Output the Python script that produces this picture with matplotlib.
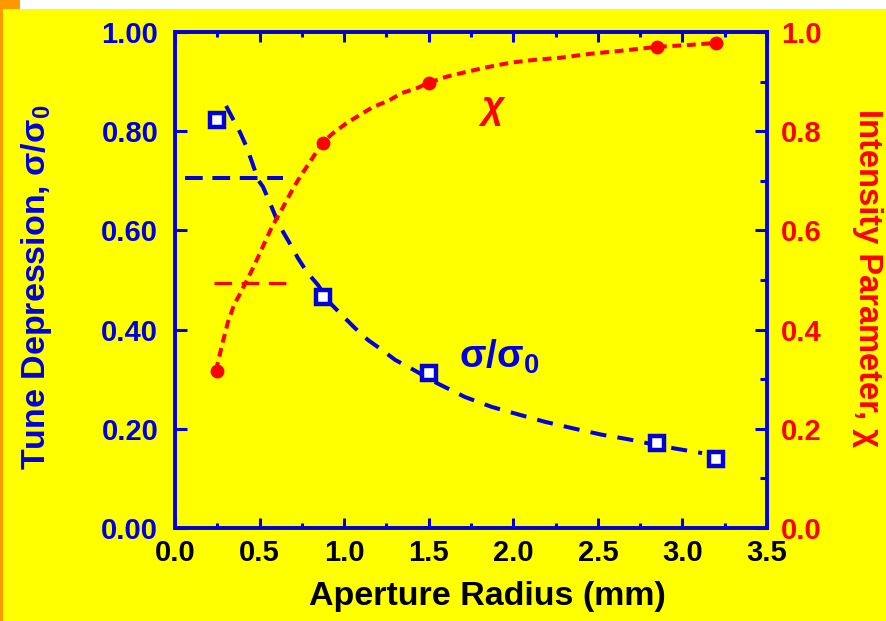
import matplotlib
matplotlib.use('Agg')
import matplotlib.pyplot as plt
from matplotlib.patches import Rectangle
from matplotlib.ticker import MultipleLocator, FormatStrFormatter

# ---- data ----
aperture_mm = [0.25, 0.875, 1.5, 2.85, 3.2]
tune_depression = [0.823, 0.466, 0.313, 0.171, 0.139]
intensity_chi = [0.317, 0.777, 0.898, 0.970, 0.977]

fit_sigma_x = [0.302, 0.384, 0.426, 0.455, 0.491, 0.520, 0.562, 0.591, 0.639, 0.680,
               0.727, 0.780, 0.845, 0.916, 0.976, 1.064, 1.141, 1.224, 1.301, 1.389,
               1.549, 1.715, 1.874, 2.040, 2.188, 2.365, 2.525, 2.678, 2.909, 3.116]
fit_sigma_y = [0.851, 0.798, 0.766, 0.738, 0.702, 0.688, 0.655, 0.631, 0.597, 0.573,
               0.544, 0.516, 0.490, 0.454, 0.433, 0.403, 0.379, 0.359, 0.339, 0.323,
               0.292, 0.264, 0.244, 0.228, 0.214, 0.200, 0.188, 0.179, 0.163, 0.151]

fit_chi_x = [0.242, 0.278, 0.313, 0.349, 0.384, 0.426, 0.455, 0.491, 0.532, 0.573,
             0.639, 0.692, 0.739, 0.798, 0.869, 0.934, 1.017, 1.094, 1.171, 1.259,
             1.342, 1.431, 1.496, 1.596, 1.715, 1.845, 1.981, 2.129, 2.276, 2.454,
             2.631, 2.850, 3.045, 3.198]
fit_chi_y = [0.317, 0.369, 0.415, 0.450, 0.472, 0.500, 0.520, 0.546, 0.577, 0.607,
             0.647, 0.681, 0.708, 0.738, 0.776, 0.796, 0.817, 0.833, 0.849, 0.861,
             0.877, 0.887, 0.897, 0.909, 0.919, 0.929, 0.938, 0.944, 0.948, 0.956,
             0.962, 0.970, 0.974, 0.978]

ref_sigma_x = [0.059, 0.639]
ref_sigma_y = [0.706, 0.706]
ref_chi_x = [0.231, 0.668]
ref_chi_y = [0.494, 0.494]

x_ticks = [0.0, 0.5, 1.0, 1.5, 2.0, 2.5, 3.0, 3.5]
left_ticks = [0.0, 0.2, 0.4, 0.6, 0.8, 1.0]
right_ticks = [0.0, 0.2, 0.4, 0.6, 0.8, 1.0]

BLUE = '#0000dd'
RED = '#ff0000'
YELLOW = '#ffff00'
FONT = 'Liberation Sans'

plt.rcParams['font.family'] = [FONT, 'DejaVu Sans']
plt.rcParams['font.weight'] = 'bold'

W, H = 886, 621
fig = plt.figure(figsize=(W / 100, H / 100), dpi=100, facecolor=YELLOW)

# decorations of the slide
fig.patches.append(Rectangle((20 / W, 1 - 9 / H), 1, 9 / H, transform=fig.transFigure,
                             facecolor='white', edgecolor='none', zorder=0))
fig.patches.append(Rectangle((0, 1 - 9 / H), 20 / W, 9 / H, transform=fig.transFigure,
                             facecolor='#ff9900', edgecolor='none', zorder=0))
fig.patches.append(Rectangle((0, 0), 3 / W, 1, transform=fig.transFigure,
                             facecolor='#ff9900', edgecolor='none', zorder=0))

L, R, T, B = 175, 767, 32, 528
ax = fig.add_axes([L / W, 1 - B / H, (R - L) / W, (B - T) / H])
ax.set_facecolor(YELLOW)
ax2 = ax.twinx()

ax.set_xlim(0, 3.5)
ax.set_ylim(0, 1.0)
ax2.set_ylim(0, 1.0)

# blue: tune depression
ax.plot(fit_sigma_x, fit_sigma_y, color=BLUE, lw=2.9, dashes=(4.0, 2.8),
        solid_capstyle='butt', dash_capstyle='butt', zorder=3)
ax.plot(ref_sigma_x, ref_sigma_y, color=BLUE, lw=2.9, dashes=(4.4, 2.4),
        dash_capstyle='butt', zorder=3)
ax.plot(aperture_mm, tune_depression, linestyle='none', marker='s', ms=9.7,
        mew=3.2, mec=BLUE, mfc='white', zorder=5)

# red: intensity parameter
ax2.plot(fit_chi_x, fit_chi_y, color=RED, lw=2.9, dashes=(2.2, 1.4),
         dash_capstyle='butt', zorder=3)
ax2.plot(ref_chi_x, ref_chi_y, color=RED, lw=2.3, dashes=(5.5, 3.0),
         dash_capstyle='butt', zorder=3)
ax2.plot(aperture_mm, intensity_chi, linestyle='none', marker='o', ms=10,
         mew=0, mfc=RED, zorder=5)

# ticks
ax.set_xticks(x_ticks)
ax.xaxis.set_minor_locator(MultipleLocator(0.25))
ax.set_yticks(left_ticks)
ax2.set_yticks(right_ticks)
ax2.yaxis.set_minor_locator(MultipleLocator(0.1))
ax.xaxis.set_major_formatter(FormatStrFormatter('%.1f'))
ax.yaxis.set_major_formatter(FormatStrFormatter('%.2f'))
ax2.yaxis.set_major_formatter(FormatStrFormatter('%.1f'))

ax.tick_params(axis='x', which='major', direction='in', length=7.2, width=2.2,
               color=BLUE, top=True, labelsize=21, labelcolor='black', pad=8)
ax.tick_params(axis='x', which='minor', direction='in', length=3.6, width=2.2,
               color=BLUE, top=True)
ax.tick_params(axis='y', which='major', direction='in', length=8.6, width=2.2,
               color=BLUE, right=False, labelsize=21, labelcolor=BLUE, pad=12)
ax2.tick_params(axis='y', which='major', direction='in', length=8.6, width=2.2,
                color=BLUE, labelsize=21, labelcolor=RED, pad=10)
ax2.tick_params(axis='y', which='minor', direction='in', length=5.0, width=2.2,
                color=BLUE)
for a in (ax, ax2):
    for lab in a.get_xticklabels() + a.get_yticklabels():
        lab.set_fontweight('bold')
        lab.set_fontfamily(FONT)
    for s in a.spines.values():
        s.set_color(BLUE)
        s.set_linewidth(2.6)

# axis labels
fig.text(487 / W, 1 - 597 / H, 'Aperture Radius (mm)', ha='center', va='center',
         fontsize=24.5, fontweight='bold', color='black')
fig.text(37 / W, 1 - 287 / H, 'Tune Depression, σ/σ$_\\mathregular{0}$', ha='center',
         va='center', rotation=90, fontsize=24.5, fontweight='bold', color=BLUE)
fig.text(868 / W, 1 - 278 / H, 'Intensity Parameter, χ', ha='center', va='center',
         rotation=270, fontsize=23.5, fontweight='bold', color=RED)

# curve labels
ax.text((493 - L) / (R - L), (B - 108) / (B - T), 'χ', transform=ax.transAxes,
        ha='center', va='center', fontsize=28, color=RED, style='italic', zorder=6)
ax.text((459 - L) / (R - L), (B - 368) / (B - T), 'σ/σ$_\\mathregular{0}$',
        transform=ax.transAxes, ha='left', va='baseline', fontsize=28,
        fontweight='bold', color=BLUE, zorder=6)

fig.savefig('out.png', dpi=100, facecolor=YELLOW)
